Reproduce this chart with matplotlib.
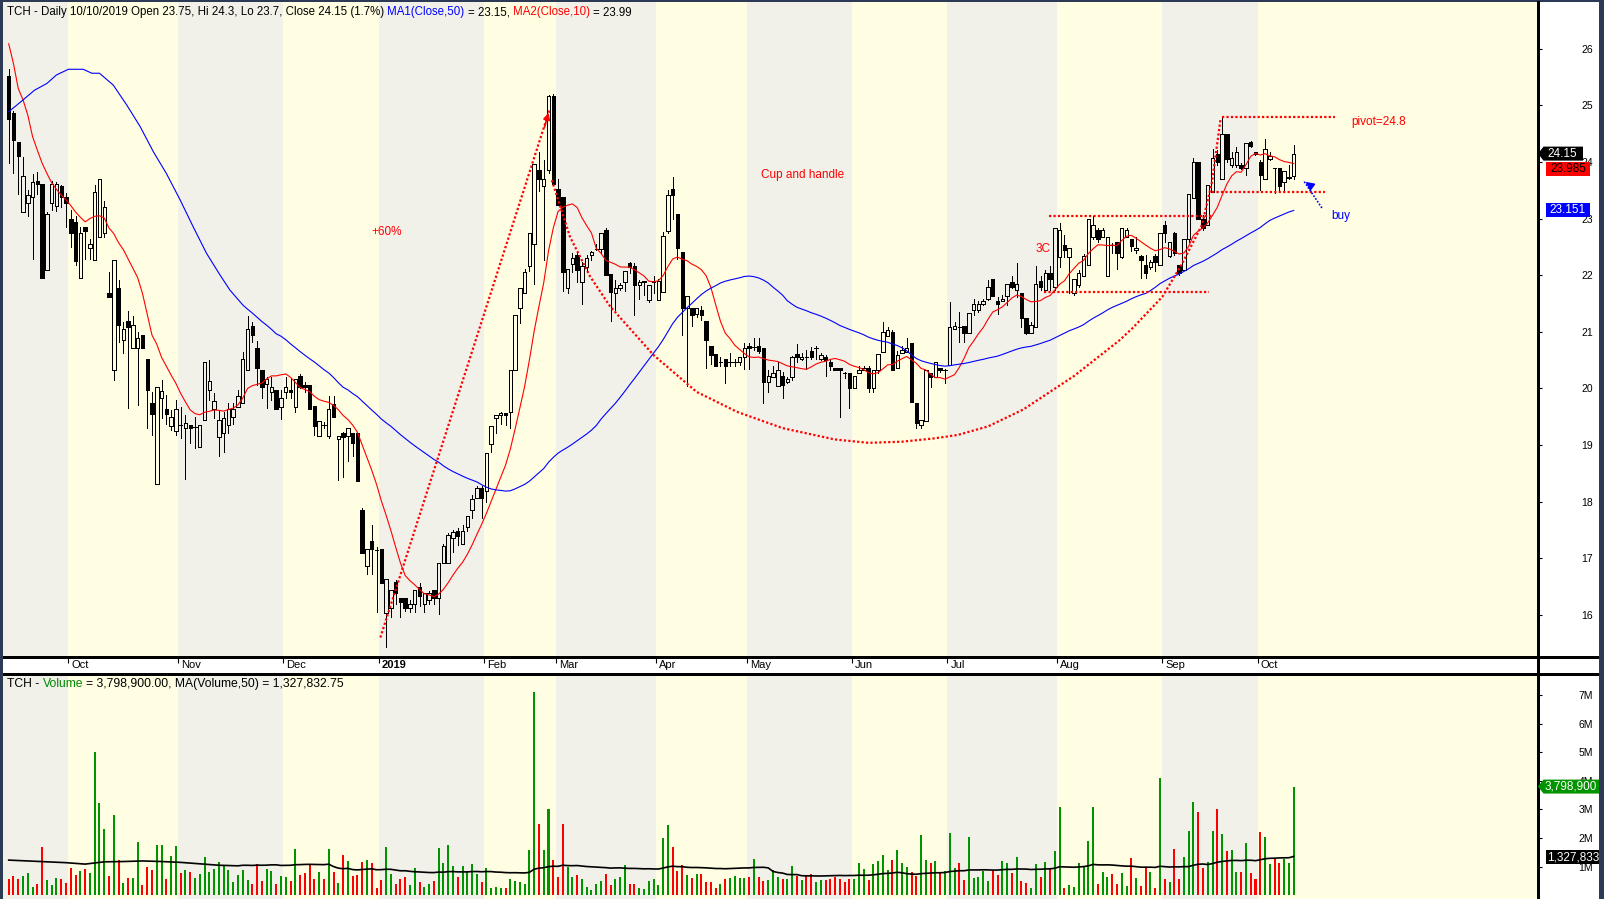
import numpy as np
import pandas as pd
import matplotlib
matplotlib.use("Agg")
import matplotlib.pyplot as plt
from matplotlib.patches import Rectangle, Polygon
from matplotlib.collections import LineCollection, PatchCollection
from matplotlib.lines import Line2D
import matplotlib.transforms as mtransforms

plt.rcParams['font.family'] = ['Liberation Sans', 'DejaVu Sans']

# ---------------- data ----------------
opens = [25.52,24.87,24.35,23.12,23.27,23.39,23.67,23.61,22.10,23.27,
         23.22,23.57,23.38,22.99,22.94,21.96,22.85,22.49,22.27,22.68,
         22.74,21.68,20.33,21.77,20.86,21.19,20.71,20.71,20.95,20.52,
         19.74,18.32,19.83,19.63,19.34,19.25,19.35,19.30,19.36,19.32,
         18.96,19.44,19.97,19.64,19.15,19.21,19.35,19.49,19.68,19.74,
         20.33,21.10,20.71,20.33,20.08,19.93,19.97,19.68,19.93,19.97,
         19.68,20.22,20.07,20.07,19.69,19.16,19.36,19.16,19.73,19.11,
         19.21,19.16,19.21,19.21,17.85,16.87,17.31,17.15,17.16,16.04,
         16.13,16.59,16.29,16.29,16.13,16.19,16.49,16.20,16.26,16.44,
         16.29,16.91,16.91,17.35,17.49,17.26,17.55,17.85,18.07,18.24,
         18.19,19.02,19.48,19.54,19.57,19.58,20.32,21.43,21.68,22.16,
         22.55,23.86,23.58,23.86,25.17,23.52,23.38,21.77,22.20,22.36,
         21.88,22.15,22.36,22.46,22.46,22.80,22.02,21.68,21.77,21.88,
         22.22,22.16,21.82,21.89,21.56,21.89,21.57,21.71,22.79,23.53,
         23.08,22.41,21.43,21.43,21.32,21.39,21.20,20.75,20.61,20.47,
         20.52,20.46,20.46,20.46,20.55,20.75,20.74,20.75,20.71,20.12,
         20.21,20.04,20.22,20.12,20.21,20.61,20.52,20.55,20.66,20.71,
         20.52,20.56,20.47,20.37,20.37,20.28,20.28,20.01,20.27,20.33,
         20.37,20.01,20.32,20.65,20.93,20.99,20.36,20.63,20.65,20.80,
         19.74,19.36,19.43,20.27,20.21,20.37,20.33,20.42,21.05,21.08,
         21.10,20.98,21.39,21.39,21.49,21.59,21.93,21.55,21.55,21.63,
         21.89,21.74,21.68,21.24,20.98,21.08,21.90,21.74,22.04,21.79,
         22.33,22.54,22.33,21.68,21.83,21.99,22.19,22.68,22.80,22.68,
         21.99,22.54,22.58,22.33,22.68,22.65,22.44,22.34,22.19,22.14,
         22.34,22.19,22.89,22.34,22.74,22.19,22.09,22.64,23.36,24.00,
         22.99,22.89,23.48,24.14,23.70,24.49,23.95,23.94,23.95,23.90,
         24.35,24.18,24.00,23.70,24.06,23.89,23.89,23.64,23.72,23.75]
highs = [25.64,24.90,24.35,24.09,23.50,23.79,23.83,23.61,23.12,23.66,
         23.65,23.60,23.45,23.15,23.04,22.86,22.85,22.64,23.60,23.71,
         23.31,22.05,22.27,21.92,21.18,21.37,21.28,20.99,20.95,20.52,
         19.94,20.02,20.15,19.89,19.62,19.80,19.68,19.53,19.36,19.50,
         19.35,20.46,20.50,19.92,19.62,19.59,19.74,19.74,19.97,20.65,
         21.28,21.18,20.84,20.33,20.20,20.20,19.97,19.97,20.21,20.18,
         20.16,20.26,20.12,20.07,19.69,19.43,19.40,19.86,19.86,19.16,
         19.24,19.30,19.21,19.21,17.88,17.16,17.59,17.20,17.16,16.63,
         16.44,16.62,16.29,16.29,16.27,16.44,16.56,16.39,16.42,16.44,
         16.91,17.25,17.45,17.50,17.53,17.59,17.74,18.12,18.27,18.27,
         18.86,19.34,19.54,19.59,19.57,20.32,21.29,21.77,22.12,22.74,
         23.97,24.17,24.04,25.19,25.20,23.70,23.38,22.11,22.39,22.40,
         22.24,22.36,22.43,22.56,22.74,22.83,22.02,21.92,21.87,22.07,
         22.24,22.21,21.92,21.89,21.83,21.98,21.93,22.77,23.51,23.74,
         23.08,22.41,21.63,21.43,21.43,21.46,21.20,20.75,20.61,20.56,
         20.52,20.63,20.52,20.55,20.81,20.80,20.89,20.89,20.71,20.33,
         20.39,20.46,20.30,20.21,20.57,20.78,20.62,20.68,20.73,20.75,
         20.62,20.60,20.53,20.37,20.37,20.30,20.28,20.22,20.39,20.40,
         20.39,20.33,20.61,21.18,21.08,21.03,20.66,20.75,20.89,20.81,
         19.74,19.44,20.33,20.27,20.47,20.37,20.34,21.52,21.18,21.36,
         21.10,21.33,21.59,21.55,21.59,21.92,21.93,21.62,21.65,21.84,
         21.98,22.21,21.68,21.24,21.18,22.17,21.98,22.09,22.16,22.83,
         22.92,22.72,22.49,21.93,22.09,22.37,23.00,23.04,22.83,22.84,
         22.68,22.57,22.58,22.83,22.83,22.65,22.68,22.36,22.36,22.27,
         22.37,22.74,22.96,22.59,22.77,22.19,22.64,23.44,24.07,24.01,
         23.07,23.60,24.24,24.21,24.80,24.49,24.18,24.27,23.98,24.34,
         24.37,24.18,24.04,24.41,24.17,23.90,23.90,23.84,23.95,24.30]
lows = [23.98,23.81,23.43,23.12,23.04,22.28,23.43,21.96,22.10,23.15,
        23.14,23.21,22.86,22.50,22.18,21.96,22.28,22.28,22.27,22.68,
        22.67,21.62,20.15,20.83,20.62,19.65,20.71,19.71,20.71,19.31,
        19.18,18.32,19.47,19.38,19.27,19.18,19.12,18.40,19.03,18.94,
        18.96,19.44,19.80,19.47,18.80,18.87,19.22,19.38,19.68,19.74,
        20.33,20.83,20.06,19.84,19.65,19.80,19.64,19.46,19.84,19.84,
        19.59,20.00,19.94,19.64,19.17,19.16,19.30,19.12,19.49,18.39,
        18.44,18.72,18.80,18.37,17.10,16.72,16.72,16.06,16.57,15.43,
        15.97,16.20,15.96,16.07,16.06,16.06,16.15,16.06,16.20,16.20,
        16.01,16.91,16.91,17.12,17.24,17.26,17.48,17.71,18.06,17.71,
        18.00,18.88,19.22,19.38,19.35,19.31,20.32,21.15,21.68,22.08,
        21.84,23.49,22.27,23.81,23.61,23.24,21.73,21.69,22.05,21.89,
        21.50,22.08,22.27,22.44,22.40,22.00,21.20,21.39,21.74,21.73,
        22.04,21.30,21.59,21.65,21.53,21.68,21.57,21.71,22.74,23.00,
        22.28,20.95,20.04,21.10,21.26,21.21,20.37,20.44,20.40,20.40,
        20.09,20.40,20.40,20.42,20.34,20.34,20.68,20.62,19.75,19.94,
        20.21,20.04,19.84,20.09,20.15,20.46,20.50,20.34,20.52,20.52,
        20.50,20.22,20.33,20.32,19.50,20.19,19.65,20.00,20.27,20.33,
        19.94,19.94,20.27,20.65,20.93,20.32,20.36,20.63,20.65,19.77,
        19.31,19.30,19.43,20.03,20.21,20.30,20.09,20.42,21.05,20.83,
        20.83,20.98,21.30,21.36,21.47,21.56,21.63,21.31,21.54,21.47,
        21.77,21.62,21.09,20.96,20.98,21.08,21.74,21.74,21.74,21.74,
        22.15,22.33,21.68,21.66,21.80,21.99,22.19,22.65,22.59,22.68,
        21.99,22.39,22.11,22.31,22.68,22.43,22.40,21.95,21.96,22.12,
        22.08,22.19,22.59,22.33,22.36,22.00,22.09,22.59,23.36,22.99,
        22.80,22.89,23.48,23.95,23.70,24.01,23.92,23.92,23.88,23.77,
        24.27,24.12,23.51,23.70,24.04,23.46,23.51,23.51,23.71,23.70]
closes = [24.77,24.39,24.10,23.76,23.41,23.65,23.61,21.96,23.08,23.61,
          23.61,23.38,23.27,22.74,22.26,22.74,22.79,22.55,23.47,23.71,
          23.21,21.62,22.27,21.13,21.05,21.09,21.13,20.90,20.71,19.97,
          19.55,20.02,19.96,19.55,19.49,19.63,19.35,19.39,19.30,19.32,
          19.35,20.46,20.13,19.78,19.44,19.48,19.64,19.64,19.87,20.52,
          21.05,20.95,20.36,20.02,20.16,20.02,19.64,19.83,20.02,19.93,
          20.16,20.02,20.02,19.64,19.34,19.43,19.36,19.63,19.49,19.16,
          19.15,19.30,19.04,18.37,17.10,17.16,17.16,17.15,16.57,16.63,
          16.44,16.38,16.23,16.13,16.19,16.44,16.33,16.39,16.38,16.29,
          16.91,17.22,17.41,17.46,17.40,17.49,17.74,18.05,18.24,18.07,
          18.86,19.34,19.54,19.57,19.54,20.32,21.29,21.77,22.06,22.74,
          23.97,23.71,23.71,25.17,23.61,23.24,22.06,22.11,22.30,22.10,
          22.16,22.30,22.41,22.46,22.74,22.00,21.71,21.77,21.83,22.07,
          22.15,21.82,21.89,21.89,21.83,21.89,21.90,22.69,23.42,23.41,
          22.49,21.43,21.63,21.29,21.43,21.29,20.85,20.59,20.40,20.47,
          20.40,20.46,20.46,20.55,20.71,20.71,20.74,20.66,20.12,20.22,
          20.27,20.33,20.07,20.16,20.56,20.55,20.56,20.55,20.55,20.71,
          20.60,20.50,20.40,20.33,20.33,20.28,20.01,20.22,20.32,20.37,
          20.01,20.33,20.61,20.99,21.04,20.32,20.60,20.68,20.71,19.77,
          19.39,19.44,20.33,20.21,20.46,20.33,20.33,21.08,21.10,21.08,
          20.98,21.33,21.49,21.49,21.55,21.79,21.63,21.49,21.59,21.84,
          21.79,21.84,21.24,20.98,21.13,21.84,21.79,22.04,21.93,22.83,
          22.80,22.44,22.49,21.93,22.04,22.34,23.00,22.88,22.64,22.80,
          22.68,22.54,22.39,22.83,22.80,22.51,22.49,22.27,22.04,22.24,
          22.23,22.74,22.74,22.59,22.39,22.04,22.64,23.44,24.00,22.99,
          22.83,23.60,24.08,24.00,24.49,24.05,24.08,24.18,23.90,24.34,
          24.29,24.14,23.78,24.24,24.10,23.89,23.58,23.84,23.74,24.15]
volumes_m = [0.57,0.67,0.57,0.67,0.78,0.29,0.39,1.69,0.53,0.36,
             0.60,0.57,0.43,0.95,0.71,0.85,0.92,0.78,5.00,3.22,
             2.32,0.67,2.81,1.23,0.43,0.60,0.60,1.86,0.36,0.99,
             0.88,1.76,1.76,0.57,1.37,1.72,0.78,0.88,0.81,0.60,
             0.74,1.34,0.81,0.92,1.16,1.02,0.88,0.46,0.71,0.88,
             0.53,0.39,1.09,0.50,0.92,0.85,0.39,0.67,0.64,0.50,
             1.62,0.71,0.78,1.09,0.57,0.81,0.57,1.62,0.81,0.43,
             1.41,1.20,0.67,0.71,1.16,1.23,1.13,0.25,0.53,1.69,
             0.74,0.39,0.57,0.64,0.36,0.95,0.46,0.29,0.39,0.50,
             1.65,1.13,1.76,1.02,0.64,1.02,0.85,1.09,0.74,0.46,
             0.95,0.25,0.29,0.25,0.25,0.57,0.50,0.46,0.39,1.58,
             7.10,2.49,1.58,3.01,1.23,0.64,2.49,0.99,0.64,0.71,
             0.57,0.29,0.18,0.39,0.50,0.74,0.36,0.57,0.64,1.06,
             0.39,0.39,0.25,0.22,0.50,0.57,0.36,2.00,2.46,1.69,
             0.85,1.06,0.71,0.60,0.74,0.74,0.46,0.46,0.25,0.39,
             0.57,0.60,0.67,0.60,0.60,0.64,1.27,0.64,0.50,0.53,
             0.88,0.64,0.57,0.57,1.02,0.67,0.53,0.67,0.74,0.46,
             0.53,0.53,0.57,0.64,0.57,0.46,0.57,0.57,1.13,0.92,
             0.53,1.09,1.20,1.41,0.88,1.23,1.58,1.13,0.99,0.81,
             0.67,2.11,1.23,1.13,1.20,0.78,0.85,2.18,0.95,1.13,
             0.53,2.04,0.60,0.64,0.85,0.50,0.88,0.71,1.20,1.13,
             0.78,1.34,0.50,0.43,0.25,1.09,0.64,1.16,0.92,1.55,
             3.08,0.25,0.36,0.29,1.13,0.99,1.90,3.08,0.39,0.81,
             0.64,0.74,0.39,0.78,0.32,1.30,0.60,0.32,0.99,0.81,
             0.25,4.10,0.57,0.46,1.62,0.57,1.34,2.25,3.26,2.91,
             0.95,1.16,2.25,3.01,2.14,1.55,1.58,0.81,0.81,1.83,
             0.78,0.57,2.21,2.04,1.09,1.27,1.13,1.27,1.13,3.80]

ma10_head = [26.09, 25.74, 25.30, 25.10, 24.83, 24.45, 24.21, 23.98, 23.80]
ma50_head_bar = [1, 3.6, 6.4, 9, 11, 13.5, 16.6, 18.4, 20, 22.9, 25.7, 28.5,
                 31.3, 34, 36.9, 39.6, 42.4, 45.2, 47.3]
ma50_head_val = [24.89, 25.07, 25.27, 25.39, 25.54, 25.64, 25.64, 25.57, 25.57,
                 25.36, 25.01, 24.63, 24.18, 23.80, 23.33, 22.86, 22.39, 22.01, 21.74]
vma_head_bar = [1, 5, 9, 13, 17, 21, 25, 29, 33, 37, 41, 45, 49]
vma_head_val = [1.23, 1.20, 1.17, 1.14, 1.09, 1.17, 1.18, 1.20, 1.18, 1.15, 1.10, 1.05, 1.03]

month_labels = ['Oct', 'Nov', 'Dec', '2019', 'Feb', 'Mar', 'Apr', 'May', 'Jun',
                'Jul', 'Aug', 'Sep', 'Oct']
month_first_bar = [14, 37, 59, 79, 101, 116, 137, 156, 178, 198, 221, 243, 263]

price_ticks = [16, 17, 18, 19, 20, 21, 22, 23, 24, 25, 26]
vol_ticks = [1, 2, 3, 4, 5, 6, 7]
vol_tick_labels = ['1M', '2M', '3M', '4M', '5M', '6M', '7M']

# drawn annotations (bar number, price)
rally_bar = [78.8, 114.2]
rally_price = [15.60, 24.92]
cup_bar = [114.7, 118.5, 122.7, 126.9, 136, 145, 153.4, 163, 173.9, 181, 188,
           194.9, 199.7, 206, 213.4, 224, 233.5, 236.3, 242.5, 246.6, 250.8,
           252.9, 254.7]
cup_price = [23.68, 22.68, 21.98, 21.45, 20.59, 19.94, 19.59, 19.30, 19.10, 19.04,
             19.06, 19.12, 19.18, 19.33, 19.63, 20.22, 20.85, 21.07, 21.62, 22.20,
             22.89, 23.65, 24.77]
level_start = [254.9, 252.8, 218.8, 217.8]
level_end = [278.6, 276.5, 253.2, 252.3]
level_price = [24.80, 23.48, 23.05, 21.71]
buy_arrow_bar = [275.9, 272.0]
buy_arrow_price = [23.19, 23.68]
notes = [('+60%', 80.2, 22.77, 'red', 'center'),
         ('Cup and handle', 167.2, 23.77, 'red', 'center'),
         ('3C', 217.6, 22.46, 'red', 'center'),
         ('pivot=24.8', 287.8, 24.71, 'red', 'center'),
         ('buy', 277.9, 23.05, 'blue', 'left')]

header_pieces = [("TCH - Daily 10/10/2019 Open 23.75, Hi 24.3, Lo 23.7, Close 24.15 (1.7%) ", 'black'),
                 ("MA1(Close,50)", '#0000FF'), (" = 23.15, ", 'black'),
                 ("MA2(Close,10)", '#FF0000'), (" = 23.99", 'black')]
vol_header_pieces = [("TCH - ", 'black'), ("Volume", '#008800'),
                     (" = 3,798,900.00, MA(Volume,50) = 1,327,832.75", 'black')]
last_close, last_ma50, last_ma10 = 24.15, 23.151, 23.985
last_vol, last_vma = 3.7989, 1.32783
tag_texts = ['24.15', '23.985', '23.151', '3,798,900', '1,327,833']

# ---------------- derived series ----------------
o = np.array(opens); h = np.array(highs); l = np.array(lows); c = np.array(closes)
v = np.array(volumes_m)
n = len(c)
x = np.arange(n)
ma10 = pd.Series(c).rolling(10).mean().to_numpy()
ma10[:9] = ma10_head
ma50 = pd.Series(c).rolling(50).mean().to_numpy()
ma50_x = np.concatenate([np.array(ma50_head_bar) - 1, x[49:]])
ma50_y = np.concatenate([ma50_head_val, ma50[49:]])
vma = pd.Series(v).rolling(50).mean().to_numpy()
vma_x = np.concatenate([np.array(vma_head_bar) - 1, x[49:]])
vma_y = np.concatenate([vma_head_val, vma[49:]])

# ---------------- layout ----------------
W, H = 1604, 899
PL, PR = 3.0, 1537.5
P_TOP, P_BOT = 2.0, 657.0
V_TOP, V_BOT = 674.0, 899.0
BAR0, STEP = 8.7, 4.777
Y25, PPU = 105.5, 56.6
VZERO, PPM = 895.3, 28.62
BG_DARK = '#2C3A56'
YELLOW = '#FFFDE2'
GREY = '#F1F1EA'
GREEN = '#009400'
RED = '#FF0000'

fig = plt.figure(figsize=(W / 100, H / 100), dpi=100, facecolor=BG_DARK)
fig.add_artist(Rectangle((PL / W, 0), (1599 - PL) / W, (H - P_TOP) / H,
                         transform=fig.transFigure, facecolor='white',
                         edgecolor='none', zorder=0))


def fax(left, top, right, bottom):
    return [left / W, 1 - bottom / H, (right - left) / W, (bottom - top) / H]


axp = fig.add_axes(fax(PL, P_TOP, PR, P_BOT))
axv = fig.add_axes(fax(PL, V_TOP, PR, V_BOT))

x_lo = (PL - BAR0) / STEP
x_hi = (PR - BAR0) / STEP
p_top = 25 + (Y25 - P_TOP) / PPU
p_bot = 25 - (P_BOT - Y25) / PPU
v_top = (VZERO - V_TOP) / PPM
v_bot = (VZERO - V_BOT) / PPM

for ax in (axp, axv):
    ax.set_xlim(x_lo, x_hi)
    ax.set_facecolor(YELLOW)
    for s in ax.spines.values():
        s.set_visible(False)
axp.set_ylim(p_bot, p_top)
axv.set_ylim(v_bot, v_top)

# month background bands
edges = [x_lo] + [m - 1.5 for m in month_first_bar] + [x_hi]
for i in range(len(edges) - 1):
    col = GREY if i % 2 == 0 else YELLOW
    for ax in (axp, axv):
        ax.axvspan(edges[i], edges[i + 1], color=col, lw=0, zorder=0)

# ---------------- candles ----------------
bw = 0.72
body_lo = np.minimum(o, c)
body_hi = np.maximum(o, c)
segs = []
for i in range(n):
    if h[i] > body_hi[i]:
        segs.append([(x[i], body_hi[i]), (x[i], h[i])])
    if l[i] < body_lo[i]:
        segs.append([(x[i], l[i]), (x[i], body_lo[i])])
axp.add_collection(LineCollection(segs, colors='black', linewidths=0.72,
                                  antialiased=False, zorder=3))
up_rects, dn_rects = [], []
for i in range(n):
    r = Rectangle((x[i] - bw / 2, body_lo[i]), bw, max(body_hi[i] - body_lo[i], 0.001))
    (up_rects if c[i] >= o[i] else dn_rects).append(r)
axp.add_collection(PatchCollection(up_rects, facecolor='none', edgecolor='black',
                                   linewidths=0.72, antialiased=False, zorder=3))
axp.add_collection(PatchCollection(dn_rects, facecolor='black', edgecolor='black',
                                   linewidths=0.72, antialiased=False, zorder=3))

axp.plot(x, ma10, color=RED, lw=0.8, zorder=4)
axp.plot(ma50_x, ma50_y, color='#0000FF', lw=0.8, zorder=4)

# ---------------- annotations ----------------
dot = (0, (1, 1))
axp.plot(np.array(rally_bar) - 1, rally_price, color=RED, lw=1.6, ls=dot, zorder=5)
axp.annotate('', xy=(rally_bar[1] - 1, rally_price[1]),
             xytext=(rally_bar[1] - 2.2, rally_price[1] - 0.35),
             arrowprops=dict(arrowstyle='-|>', color=RED, lw=1.2, mutation_scale=10),
             zorder=5)
axp.plot(np.array(cup_bar) - 1, cup_price, color=RED, lw=1.6, ls=dot, zorder=5)
for s0, s1, pv in zip(level_start, level_end, level_price):
    axp.plot([s0 - 1, s1 - 1], [pv, pv], color=RED, lw=1.6, ls=dot, zorder=5)
axp.plot(np.array(buy_arrow_bar) - 1, buy_arrow_price, color='#0000FF', lw=1.2,
         ls=dot, zorder=5)
axp.annotate('', xy=(buy_arrow_bar[1] - 1, buy_arrow_price[1]),
             xytext=(buy_arrow_bar[1] + 0.6, buy_arrow_price[1] - 0.1),
             arrowprops=dict(arrowstyle='-|>', color='#0000FF', lw=1.2, mutation_scale=12),
             zorder=5)
for txt, kb, pv, col, ha in notes:
    axp.text(kb - 1, pv, txt, color=col, fontsize=8.5, ha=ha, va='center', zorder=6)

# ---------------- volume ----------------
prev_c = np.concatenate([[c[0]], c[:-1]])
is_up = np.where(c > o, True, np.where(c < o, False, c >= prev_c))
vcols = [GREEN if u else RED for u in is_up]
axv.bar(x, v, width=0.42, color=vcols, linewidth=0, antialiased=False, zorder=3)
axv.plot(vma_x, vma_y, color='black', lw=1.2, zorder=4)

# ---------------- axes ticks ----------------
for ax, ticks, labels in ((axp, price_ticks, [str(t) for t in price_ticks]),
                          (axv, vol_ticks, vol_tick_labels)):
    ax.yaxis.tick_right()
    ax.set_yticks(ticks)
    ax.set_yticklabels(labels)
    ax.tick_params(axis='y', direction='out', length=3, width=0.8, colors='black',
                   labelsize=7.5, pad=37)
    for lab in ax.get_yticklabels():
        lab.set_horizontalalignment('right')
axv.set_xticks([])
axp.set_xticks([m - 1.5 for m in month_first_bar])
axp.tick_params(axis='x', direction='out', length=4.5, width=0.8, colors='black',
                labelbottom=False)

trans_m = mtransforms.offset_copy(axp.get_xaxis_transform(), fig=fig, x=3, y=-8,
                                  units='dots')
for lab, m in zip(month_labels, month_first_bar):
    axp.text(m - 1.5, 0, lab, transform=trans_m, fontsize=8, ha='left', va='center',
             fontweight='bold' if lab.isdigit() else 'normal', clip_on=False)

# frame lines
for (x0, y0, x1, y1) in [(PL, P_BOT, 1599, P_BOT), (PL, V_TOP, 1599, V_TOP),
                         (PR, P_TOP, PR, H)]:
    fig.add_artist(Line2D([x0 / W, x1 / W], [1 - y0 / H, 1 - y1 / H],
                          transform=fig.transFigure, color='black', lw=0.9,
                          antialiased=False, zorder=10))


# ---------------- header texts ----------------
renderer = fig.canvas.get_renderer()


def text_width(s, size):
    t = fig.text(0, 0, s, fontsize=size)
    w = t.get_window_extent(renderer).width
    t.remove()
    return w


def seq_text(x0, yc, pieces, size):
    prefix = ''
    ref = text_width('M', size)
    for s, col in pieces:
        lead = len(s) - len(s.lstrip())
        prefix += s[:lead]
        s2 = s.lstrip()
        w = text_width(prefix + 'M', size) - ref if prefix else 0
        fig.text((x0 + w) / W, 1 - yc / H, s2, color=col, fontsize=size,
                 ha='left', va='center', zorder=12)
        prefix += s2


seq_text(7, 12.5, header_pieces, 8.3)
seq_text(7, 684, vol_header_pieces, 8.7)


# ---------------- right-axis value tags ----------------
def ypix(ax, val):
    return H - ax.transData.transform((0, val))[1]


def poly(points, col):
    fig.add_artist(Polygon([(px / W, 1 - py / H) for px, py in points], closed=True,
                           transform=fig.transFigure, facecolor=col, edgecolor='none',
                           zorder=11))


def tag_text(px, py, s, col, ha='center'):
    fig.text(px / W, 1 - py / H, s, color=col, fontsize=8.5, ha=ha, va='center',
             zorder=12)


yc = ypix(axp, last_close)
poly([(PR + 0.5, yc), (PR + 6, yc - 7), (1583, yc - 7), (1583, yc + 7), (PR + 6, yc + 7)],
     'black')
tag_text(1562, yc, tag_texts[0], 'white')
yr = max(ypix(axp, last_ma10), yc + 15)
poly([(1546, yr - 7), (1590, yr - 7), (1590, yr + 7), (1546, yr + 7)], RED)
tag_text(1568, yr, tag_texts[1], 'black')
yb = ypix(axp, last_ma50)
poly([(1546, yb - 7), (1590, yb - 7), (1590, yb + 7), (1546, yb + 7)], '#0000FF')
tag_text(1568, yb, tag_texts[2], 'white')

yg = ypix(axv, last_vol)
poly([(PR + 0.5, yg), (PR + 6, yg - 7), (1604, yg - 7), (1604, yg + 7), (PR + 6, yg + 7)],
     GREEN)
tag_text(1545, yg, tag_texts[3], 'white', ha='left')
yk = ypix(axv, last_vma)
poly([(1546, yk - 7), (1604, yk - 7), (1604, yk + 7), (1546, yk + 7)], 'black')
tag_text(1547, yk, tag_texts[4], 'white', ha='left')

# dark outer border (clips the tags at the right)
fig.add_artist(Rectangle((1599 / W, 0), 5 / W, 1, transform=fig.transFigure,
                         facecolor=BG_DARK, edgecolor='none', zorder=20))
fig.add_artist(Rectangle((0, 0), PL / W, 1, transform=fig.transFigure,
                         facecolor=BG_DARK, edgecolor='none', zorder=20))

fig.savefig('out.png', dpi=100, facecolor=BG_DARK)
